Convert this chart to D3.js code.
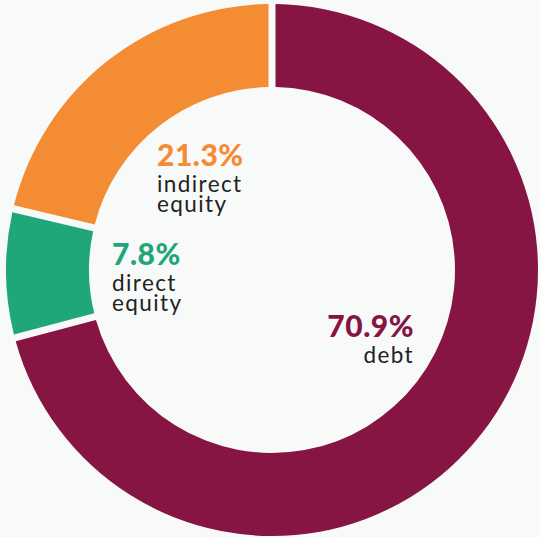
<!DOCTYPE html>
<html>
<head>
<meta charset="utf-8">
<script src="https://cdn.jsdelivr.net/npm/d3@7"></script>
<style>
  html, body { margin: 0; padding: 0; background: #f8f9f9; }
  svg { display: block; }
</style>
</head>
<body>
<svg id="chart"></svg>
<script>
// slice order runs clockwise from 12 o'clock
const categories = ["debt", "direct equity", "indirect equity"];
const shares = [70.9, 7.8, 21.3];
const labels = ["70.9%", "7.8%", "21.3%"];
const colorList = ["#861544", "#1fa77a", "#f48c34"];

const width = 540, height = 537;
const cx = 272, cy = 270;
const outerR = 266, innerR = 183;
const gap = 7; // px gap between slices

const svg = d3.select("#chart").attr("width", width).attr("height", height);

const pie = d3.pie().sort(null).value(d => d.value);
const padR = Math.sqrt(outerR * outerR + innerR * innerR);
const arc = d3.arc()
  .outerRadius(outerR)
  .innerRadius(innerR)
  .padRadius(padR)
  .padAngle(gap / padR);

const data = categories.map((c, i) => ({ name: c, value: shares[i], label: labels[i], color: colorList[i] }));

const g = svg.append("g").attr("transform", `translate(${cx},${cy})`);

g.selectAll(".slice")
  .data(pie(data))
  .enter()
  .append("path")
  .attr("class", "slice")
  .attr("d", arc)
  .attr("fill", d => d.data.color);

// label anchors relative to centre; anchor = text-anchor
const labelPos = {
  "debt": { x: 142, y: 67, anchor: "end", lines: ["debt"] },
  "direct equity": { x: -160, y: -5, anchor: "start", lines: ["direct", "equity"] },
  "indirect equity": { x: -115, y: -104, anchor: "start", lines: ["indirect", "equity"] }
};

const lab = g.selectAll(".lab")
  .data(data)
  .enter()
  .append("g")
  .attr("class", "lab")
  .attr("text-anchor", d => labelPos[d.name].anchor)
  .attr("transform", d => `translate(${labelPos[d.name].x},${labelPos[d.name].y})`);

lab.append("text")
  .attr("font-family", "Lato, sans-serif")
  .attr("font-weight", 900)
  .attr("font-size", 30)
  .attr("letter-spacing", 0.5)
  .attr("fill", d => d.color)
  .text(d => d.label);

lab.each(function(d) {
  const t = d3.select(this);
  labelPos[d.name].lines.forEach((line, i) => {
    t.append("text")
      .attr("y", 26 + i * 20)
      .attr("font-family", "Lato, sans-serif")
      .attr("font-size", 22.5)
      .attr("letter-spacing", 1.4)
      .attr("fill", "#222222")
      .text(line);
  });
});
</script>
</body>
</html>
